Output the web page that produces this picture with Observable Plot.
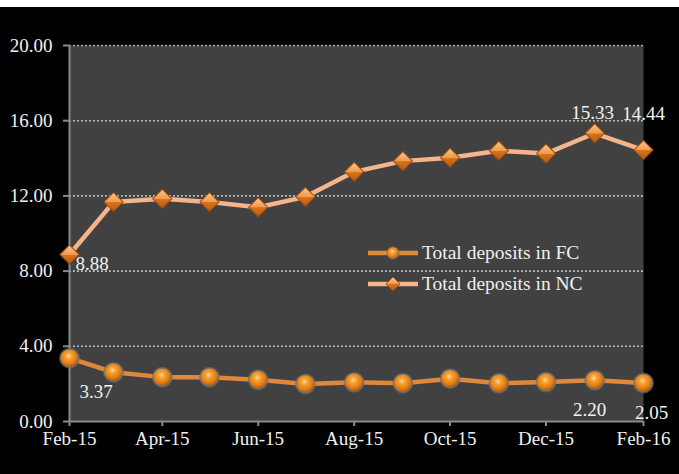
<!DOCTYPE html>
<html><head><meta charset="utf-8">
<script src="https://cdn.jsdelivr.net/npm/d3@7"></script>
<script src="https://cdn.jsdelivr.net/npm/@observablehq/plot@0.6"></script>
<style>
html,body{margin:0;padding:0;background:#fff;}
#wrap{position:relative;width:679px;height:474px;overflow:hidden;background:#fff;}
#chart{position:absolute;left:0;top:7px;}
#chart svg, #chart svg text{font-family:'Liberation Serif','Times New Roman',serif !important;}
#legend{position:absolute;left:366px;top:237px;font-family:'Liberation Serif','Times New Roman',serif;font-size:19.5px;color:#f0f0f0;}
#legend .row{display:flex;align-items:center;height:31px;}
#legend svg{display:block;margin-right:2px;}
</style></head><body>
<div id="wrap"><div id="chart"></div><div id="legend"></div></div>
<script>
const months = ["2015-02","2015-03","2015-04","2015-05","2015-06","2015-07","2015-08","2015-09","2015-10","2015-11","2015-12","2016-01","2016-02"];
const fcValues = [3.37,2.62,2.36,2.36,2.22,2.00,2.09,2.04,2.28,2.03,2.10,2.20,2.05];
const ncValues = [8.88,11.67,11.85,11.67,11.40,11.95,13.28,13.85,14.03,14.40,14.25,15.33,14.44];
const yTicks = [0,4,8,12,16,20];
const xTickMonths = ["2015-02","2015-04","2015-06","2015-08","2015-10","2015-12","2016-02"];
const seriesNames = ["Total deposits in FC","Total deposits in NC"];
const fcLabelMonths = ["2015-02","2016-01","2016-02"];
const ncLabelMonths = ["2015-02","2016-01","2016-02"];

const parse = d3.utcParse("%Y-%m");
const fc = months.map((m,i)=>({date:parse(m), value:fcValues[i], m}));
const nc = months.map((m,i)=>({date:parse(m), value:ncValues[i], m}));
const fmt = d3.format(".2f");
const font = "Liberation Serif, serif";
const FC_COLOR = "#E0873C", NC_COLOR = "#F5B48C";
const FS = 19;

const lbl = (data, m, o) => Plot.text(data.filter(d=>d.m===m), {
  x:"date", y:"value", text:d=>fmt(d.value), fill:"#f2f2f2", fontSize:FS, fontFamily:font, ...o
});

const chart = Plot.plot({
  width:679, height:467,
  marginLeft:69, marginRight:36, marginTop:38, marginBottom:53,
  style:{background:"#000", overflow:"visible"},
  x:{type:"utc", domain:[parse(months[0]), parse(months[months.length-1])], label:null},
  y:{domain:[0,20], label:null},
  marks:[
    Plot.frame({fill:"#414141", stroke:null}),
    Plot.ruleY(yTicks.filter(v=>v>0), {stroke:"#c4c4c4", strokeWidth:1.6, strokeDasharray:"1.8,2.2"}),
    Plot.axisY({ticks:yTicks, tickFormat:fmt, tickSize:6, tickPadding:11, stroke:"#8a8a8a", strokeWidth:2, fill:"#f0f0f0", fontSize:FS, fontFamily:font, label:null}),
    Plot.axisX({ticks:xTickMonths.map(parse), tickFormat:d3.utcFormat("%b-%y"), tickSize:5, tickPadding:5, stroke:"#8a8a8a", strokeWidth:2, fill:"#f0f0f0", fontSize:FS, fontFamily:font, label:null}),
    Plot.ruleY([0], {stroke:"#8a8a8a", strokeWidth:2}),
    Plot.ruleX([parse(months[0])], {stroke:"#8a8a8a", strokeWidth:2}),
    Plot.line(nc, {x:"date", y:"value", stroke:NC_COLOR, strokeWidth:4.5}),
    Plot.line(fc, {x:"date", y:"value", stroke:FC_COLOR, strokeWidth:4.5}),
    Plot.dot(nc, {x:"date", y:"value", symbol:"square", r:7.6, rotate:45, fill:"url(#diaGrad)", stroke:"#9a4d10", strokeWidth:1}),
    Plot.dot(fc, {x:"date", y:"value", r:10.5, fill:"#6a6a6a", fillOpacity:0.6, stroke:null}),
    Plot.dot(fc, {x:"date", y:"value", r:9, fill:"url(#ballGrad)", stroke:"#777", strokeWidth:0.8}),
    lbl(nc, ncLabelMonths[0], {textAnchor:"start", dx:6, dy:9}),
    lbl(nc, ncLabelMonths[1], {textAnchor:"middle", dx:-2, dy:-20}),
    lbl(nc, ncLabelMonths[2], {textAnchor:"middle", dx:0, dy:-36}),
    lbl(fc, fcLabelMonths[0], {textAnchor:"start", dx:10, dy:34}),
    lbl(fc, fcLabelMonths[1], {textAnchor:"middle", dx:-5, dy:30}),
    lbl(fc, fcLabelMonths[2], {textAnchor:"middle", dx:8, dy:30})
  ]
});

const defs = `<defs>
<radialGradient id="ballGrad" cx="0.45" cy="0.38" r="0.6">
  <stop offset="0" stop-color="#ffd9a0"/>
  <stop offset="0.3" stop-color="#f7a030"/>
  <stop offset="0.75" stop-color="#e07a10"/>
  <stop offset="1" stop-color="#a85a10"/>
</radialGradient>
<linearGradient id="diaGrad" x1="0" y1="0" x2="1" y2="1">
  <stop offset="0" stop-color="#fcc890"/>
  <stop offset="0.5" stop-color="#f0994a"/>
  <stop offset="0.52" stop-color="#d8741e"/>
  <stop offset="1" stop-color="#b8580c"/>
</linearGradient></defs>`;
chart.insertAdjacentHTML("afterbegin", defs);
document.getElementById("chart").appendChild(chart);

const legend = document.getElementById("legend");
seriesNames.forEach((name,i)=>{
  const color = i===0 ? FC_COLOR : NC_COLOR;
  const marker = i===0
    ? `<circle cx="27" cy="10" r="6" fill="url(#ballGrad)" stroke="#777" stroke-width="0.8"/>`
    : `<rect x="-5" y="-5" width="10" height="10" transform="translate(27,10) rotate(45)" fill="url(#diaGrad)" stroke="#9a4d10" stroke-width="0.8"/>`;
  const row = document.createElement("div");
  row.className = "row";
  row.innerHTML = `<svg width="54" height="20"><line x1="2" x2="52" y1="10" y2="10" stroke="${color}" stroke-width="4.5"/>${marker}</svg><span>${name}</span>`;
  legend.appendChild(row);
});
</script>
</body></html>
